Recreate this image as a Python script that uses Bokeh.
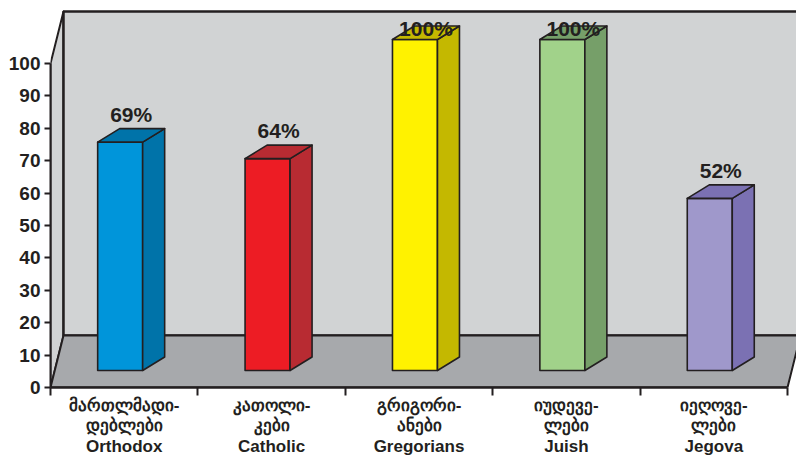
from bokeh.plotting import figure
from bokeh.models import Range1d, LinearAxis, FixedTicker
from bokeh.embed import file_html
from bokeh.resources import INLINE
from bokeh.core.properties import value

# ---- data ----
categories_ka_1 = ["მართლმადი-", "კათოლი-", "გრიგორი-", "იუდევე-", "იეღოვე-"]
categories_ka_2 = ["დებლები", "კები", "ანები", "ლები", "ლები"]
categories_en = ["Orthodox", "Catholic", "Gregorians", "Juish", "Jegova"]
values = [69, 64, 100, 100, 52]
y_ticks = [0, 10, 20, 30, 40, 50, 60, 70, 80, 90, 100]

# ---- style ----
FRONT = ["#0095da", "#ed1c24", "#fff200", "#a1d28a", "#9f98cb"]
SIDE = ["#0073a9", "#b82b32", "#c4b800", "#769f69", "#7b71b3"]
INK = "#231f20"
WALL = "#d1d3d4"
FLOOR = "#a7a9ac"
FONT = "Liberation Sans"

PX_X = 147.4   # pixels per category
PX_Y = 3.24    # pixels per value unit
ML = 50
FW, FH = 746, 387

p = figure(frame_width=FW, frame_height=FH,
           x_range=Range1d(0, FW / PX_X), y_range=Range1d(0, FH / PX_Y),
           output_backend="svg", toolbar_location=None,
           x_axis_type=None, y_axis_type=None,
           min_border_left=ML, min_border_right=0, min_border_top=0, min_border_bottom=0)
p.outline_line_color = None
p.background_fill_color = "white"
p.border_fill_color = "white"

n = len(values)
DX = 13 / PX_X
DY = 52 / PX_Y
TOP = 100 + DY
XR = FW / PX_X + 0.2

# side wall
p.patch([0, 0, DX, DX], [0, 100, TOP, DY], fill_color=WALL, line_color=INK, line_width=2, line_join="round")
# back wall
p.patch([DX, XR, XR, DX], [DY, DY, TOP, TOP], fill_color=WALL, line_color=INK, line_width=2.5)
# floor
p.patch([0, n, n + DX, XR, XR, DX], [0, 0, DY, DY, DY, DY], fill_color=FLOOR, line_color=INK, line_width=2, line_join="round")

# bars
BASE = 17 / PX_Y
SCALE = 3.31 / PX_Y
BW = 45 / PX_X
BDX = 22 / PX_X
BDY = 13.5 / PX_Y
OFF = 0.32
CAP = TOP - 17 / PX_Y

lx, ly, lt = [], [], []
for i, v in enumerate(values):
    x0 = i + OFF
    x1 = x0 + BW
    top = BASE + SCALE * v
    p.patch([x0, x1, x1, x0], [BASE, BASE, top, top], fill_color=FRONT[i], line_color=INK, line_width=1.6, line_join="round")
    p.patch([x1, x1 + BDX, x1 + BDX, x1], [BASE, BASE + BDY, top + BDY, top], fill_color=SIDE[i], line_color=INK, line_width=1.6, line_join="round")
    p.patch([x0, x1, x1 + BDX, x0 + BDX], [top, top, top + BDY, top + BDY], fill_color=SIDE[i], line_color=INK, line_width=1.6, line_join="round")
    lx.append(x0 + (BW + BDX) / 2)
    ly.append(min(top + 28 / PX_Y, CAP))
    lt.append(f"{v}%")

p.text(x=lx, y=ly, text=lt, text_align="center", text_baseline="alphabetic",
       text_font=value(FONT), text_font_style="bold", text_font_size="21px", text_color=INK)

# y axis
yax = LinearAxis(ticker=FixedTicker(ticks=y_ticks), bounds=(0, 100),
                 axis_line_color=INK, axis_line_width=2,
                 major_tick_line_color=INK, major_tick_line_width=2,
                 major_tick_out=6, major_tick_in=0, minor_tick_out=0, minor_tick_in=0,
                 major_label_standoff=4,
                 major_label_text_font=FONT, major_label_text_font_style="bold",
                 major_label_text_font_size="19px", major_label_text_color=INK)
p.add_layout(yax, "left")

# x axis
centers = [i + 0.5 for i in range(n)]
bounds_t = [float(i) for i in range(n + 1)]
overrides = {c: f"{a}\n{b}\n{e}" for c, a, b, e in zip(centers, categories_ka_1, categories_ka_2, categories_en)}
xax = LinearAxis(ticker=FixedTicker(ticks=centers, minor_ticks=bounds_t), bounds=(0, n),
                 axis_line_color=INK, axis_line_width=2.5,
                 major_tick_out=0, major_tick_in=0,
                 minor_tick_line_color=INK, minor_tick_line_width=2,
                 minor_tick_out=8, minor_tick_in=0,
                 major_label_overrides=overrides, major_label_standoff=0,
                 major_label_text_font=FONT, major_label_text_font_style="bold",
                 major_label_text_font_size="17px", major_label_text_line_height=1.1,
                 major_label_text_color=INK)
p.add_layout(xax, "below")

open("out.html", "w").write(file_html(p, INLINE))
